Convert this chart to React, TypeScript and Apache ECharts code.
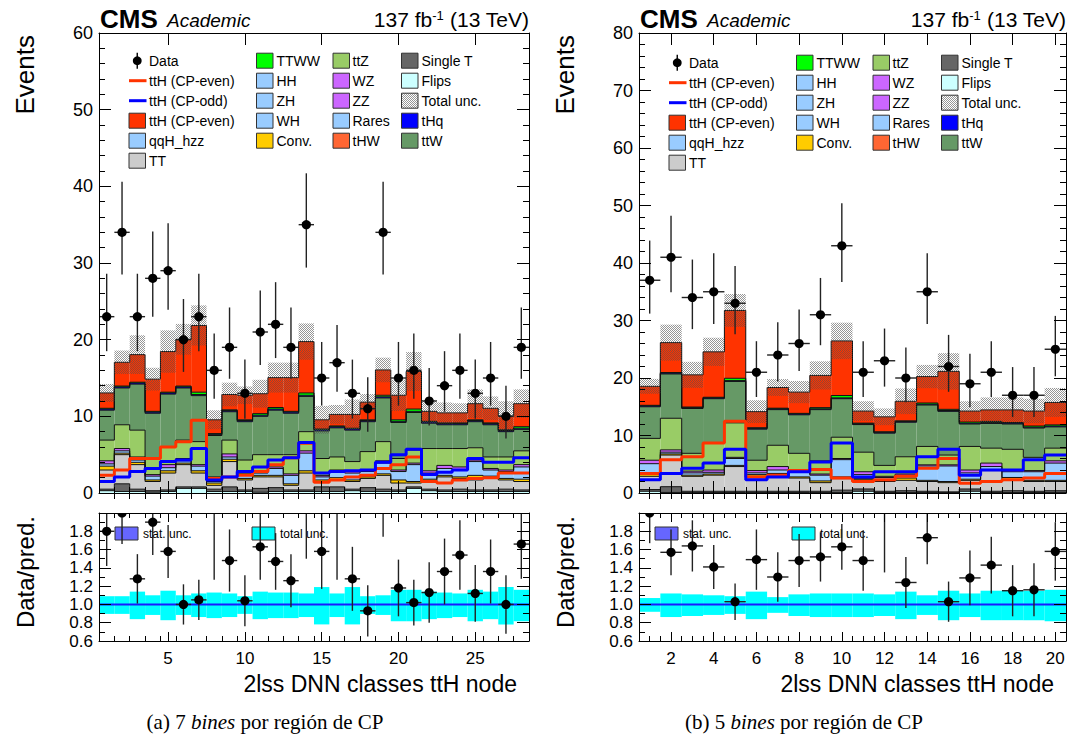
import React, { useEffect, useRef } from 'react';
import * as echarts from 'echarts';

// ---------------- Panel (a): 28 bins ----------------
const binsA = [1, 2, 3, 4, 5, 6, 7, 8, 9, 10, 11, 12, 13, 14, 15, 16, 17, 18, 19, 20, 21, 22, 23, 24, 25, 26, 27, 28];
const dataA = [23, 34, 23, 28, 29, 20, 23, 16, 19, 13, 21, 22, 19, 35, 15, 17, 13, 11, 34, 15, 16, 12, 14, 16, 13, 15, 10, 19];
const errLoA = [4.5, 5.5, 4.5, 5.0, 5.1, 4.2, 4.5, 3.7, 4.1, 3.3, 4.3, 4.4, 4.1, 5.6, 3.6, 3.8, 3.3, 3.0, 5.5, 3.6, 3.7, 3.2, 3.4, 3.7, 3.3, 3.6, 2.9, 4.1];
const errHiA = [5.6, 6.6, 5.6, 6.1, 6.2, 5.3, 5.6, 4.8, 5.2, 4.4, 5.4, 5.5, 5.2, 6.7, 4.7, 4.9, 4.4, 4.1, 6.6, 4.7, 4.8, 4.3, 4.5, 4.8, 4.4, 4.7, 4.0, 5.2];
const flipsA = [0.3, 0.2, 0.2, 0.1, 0.2, 0.6, 0.6, 0.2, 0.2, 0.2, 0.1, 0.2, 0.2, 0.2, 0.2, 0.2, 0.3, 0.2, 0.2, 0.2, 0.6, 0.3, 0.2, 0.2, 0.2, 0.2, 0.2, 0.2];
const singleTA = [0.2, 1.0, 0.3, 0.2, 0.2, 0.2, 0.2, 0.3, 0.6, 0.2, 0.5, 0.5, 0.2, 0.2, 0.6, 0.6, 0.2, 0.5, 0.3, 0.2, 0.2, 0.2, 0.2, 0.3, 0.2, 0.2, 0.3, 0.2];
const ttA = [2.5, 3.8, 3.2, 1.2, 2.2, 2.9, 1.8, 0.5, 3.3, 1.3, 1.5, 1.4, 0.6, 2.2, 0.7, 0.9, 1.0, 1.2, 1.8, 0.9, 0.5, 1.0, 1.7, 1.4, 1.3, 1.5, 1.2, 1.1];
const convA = [0.5, 0.2, 0.3, 0.2, 0.3, 0.2, 0.3, 0.3, 0.3, 0.2, 0.2, 0.2, 0.2, 0.3, 0.2, 0.3, 0.2, 0.2, 0.2, 0.4, 0.2, 0.3, 0.2, 0.2, 0.6, 0.3, 0.2, 0.3];
const raresA = [0.3, 0.3, 0.3, 0.5, 0.4, 0.3, 0.6, 0.2, 0.3, 0.4, 0.3, 0.9, 1.1, 2.3, 0.4, 0.8, 0.9, 0.7, 1.4, 1.1, 2.2, 0.8, 0.9, 0.9, 1.8, 0.8, 0.9, 1.6];
const wzzzA = [0.4, 0.3, 0.4, 0.2, 0.4, 0.3, 0.2, 0.3, 0.4, 0.2, 0.2, 0.2, 0.2, 0.3, 0.2, 0.2, 0.2, 0.2, 0.3, 0.2, 0.2, 0.3, 0.4, 0.4, 0.2, 0.2, 0.2, 0.3];
const ttzA = [2.7, 3.1, 3.5, 2.1, 2.3, 2.4, 3.0, 0.3, 1.8, 1.8, 2.2, 1.6, 2.5, 2.5, 2.2, 1.7, 1.3, 2.4, 2.5, 1.5, 1.7, 2.9, 2.2, 2.4, 1.6, 1.5, 1.7, 1.8];
const ttwA = [3.9, 4.8, 6.0, 5.9, 6.9, 6.8, 6.0, 5.4, 3.7, 5.0, 5.0, 5.8, 5.4, 4.6, 3.6, 3.8, 4.1, 3.9, 5.7, 4.7, 4.9, 3.3, 3.1, 3.1, 3.4, 4.2, 3.3, 2.8];
const thqA = [0.15, 0.15, 0.15, 0.15, 0.15, 0.15, 0.15, 0.15, 0.15, 0.15, 0.15, 0.15, 0.15, 0.15, 0.15, 0.15, 0.15, 0.15, 0.15, 0.15, 0.15, 0.15, 0.15, 0.15, 0.15, 0.15, 0.15, 0.15];
const ttwwA = [0.1, 0.1, 0.1, 0.1, 0.1, 0.1, 0.3, 0.1, 0.1, 0.1, 0.2, 0.2, 0.1, 0.3, 0.1, 0.1, 0.1, 0.1, 0.2, 0.2, 0.3, 0.1, 0.1, 0.1, 0.1, 0.1, 0.1, 0.2];
const tthA = [2.0, 3.1, 3.6, 4.2, 5.3, 6.1, 8.7, 1.8, 2.0, 3.2, 2.6, 3.9, 4.4, 6.7, 1.2, 1.5, 1.8, 2.3, 3.3, 3.2, 4.9, 1.3, 1.3, 1.3, 2.1, 1.9, 1.8, 3.0];
const cpEvenA = [2.3, 3.0, 4.5, 4.5, 6.0, 6.7, 9.5, 1.9, 2.1, 2.3, 2.8, 3.7, 4.6, 6.5, 1.4, 1.7, 2.1, 2.3, 3.2, 3.7, 4.7, 1.5, 1.3, 1.7, 1.9, 2.0, 2.6, 2.6];
const cpOddA = [1.5, 2.1, 2.8, 3.2, 4.1, 4.3, 5.8, 1.7, 2.1, 2.8, 3.4, 4.3, 4.6, 6.6, 2.6, 2.8, 2.9, 3.0, 4.0, 5.0, 5.7, 2.4, 2.7, 3.0, 4.5, 4.0, 4.0, 4.6];
const uncA = [0.09, 0.09, 0.14, 0.10, 0.15, 0.10, 0.12, 0.13, 0.12, 0.09, 0.14, 0.13, 0.13, 0.12, 0.19, 0.12, 0.19, 0.09, 0.10, 0.16, 0.16, 0.14, 0.13, 0.12, 0.16, 0.14, 0.19, 0.16];
const ratioA = [1.8, 2.0, 1.28, 1.9, 1.58, 1.0, 1.05, 2.2, 1.48, 1.04, 1.63, 1.47, 1.26, 2.1, 1.58, 2.2, 1.28, 0.93, 2.1, 1.18, 1.02, 1.13, 1.36, 1.54, 1.12, 1.36, 1.0, 1.66];
const ratioErrA = [0.38, 0.34, 0.27, 0.36, 0.29, 0.22, 0.22, 0.93, 0.34, 0.28, 0.36, 0.31, 0.29, 0.6, 0.41, 0.93, 0.35, 0.28, 0.36, 0.31, 0.25, 0.33, 0.36, 0.38, 0.31, 0.35, 0.32, 0.38];
const majorTicksA = [5, 10, 15, 20, 25];

// ---------------- Panel (b): 20 bins ----------------
const binsB = [1, 2, 3, 4, 5, 6, 7, 8, 9, 10, 11, 12, 13, 14, 15, 16, 17, 18, 19, 20];
const dataB = [37, 41, 34, 35, 33, 21, 24, 26, 31, 43, 21, 23, 20, 35, 22, 19, 21, 17, 17, 25];
const errLoB = [5.8, 6.1, 5.5, 5.6, 5.4, 4.3, 4.6, 4.8, 5.3, 6.3, 4.3, 4.5, 4.2, 5.6, 4.4, 4.1, 4.3, 3.8, 3.8, 4.7];
const errHiB = [6.9, 7.2, 6.6, 6.7, 6.5, 5.4, 5.7, 5.9, 6.4, 7.4, 5.4, 5.6, 5.3, 6.7, 5.5, 5.2, 5.4, 4.9, 4.9, 5.8];
const flipsB = [0.3, 0.1, 0.1, 0.1, 0.1, 0.1, 0.1, 0.1, 0.1, 0.1, 0.3, 0.1, 0.1, 0.1, 0.1, 0.3, 0.1, 0.1, 0.1, 0.1];
const singleTB = [0.3, 1.0, 0.2, 0.2, 0.2, 0.2, 0.2, 0.2, 0.2, 0.4, 0.4, 0.2, 0.3, 0.2, 0.1, 0.4, 0.2, 0.3, 0.2, 0.3];
const ttB = [2.3, 5.5, 2.6, 2.8, 4.3, 2.6, 2.8, 2.3, 1.5, 2.0, 1.6, 1.7, 1.8, 1.7, 1.6, 1.5, 3.6, 1.8, 1.7, 1.6];
const convB = [0.6, 0.2, 0.2, 0.2, 0.2, 0.3, 0.3, 0.2, 0.3, 0.3, 0.2, 0.2, 0.4, 0.2, 0.2, 0.2, 0.2, 0.5, 0.2, 0.2];
const raresB = [1.6, 0.3, 0.4, 0.3, 1.2, 0.3, 0.6, 1.0, 1.0, 3.0, 0.7, 0.5, 0.5, 2.5, 2.7, 1.1, 0.5, 1.0, 1.5, 3.0];
const wzzzB = [0.6, 0.4, 0.3, 0.4, 0.2, 0.4, 0.6, 0.2, 0.2, 0.2, 0.5, 0.2, 0.2, 0.2, 0.2, 0.5, 0.6, 0.3, 0.2, 0.4];
const ttzB = [3.8, 5.5, 3.1, 4.7, 6.0, 1.8, 3.7, 2.9, 2.3, 3.7, 3.4, 1.9, 3.0, 3.2, 1.7, 4.1, 2.6, 3.6, 2.3, 2.2];
const ttwB = [5.5, 7.7, 7.8, 7.7, 7.2, 5.4, 6.2, 6.7, 8.9, 6.7, 4.8, 5.6, 6.0, 7.2, 7.6, 3.9, 4.3, 4.4, 5.1, 3.7];
const thqB = [0.15, 0.15, 0.15, 0.15, 0.15, 0.15, 0.15, 0.15, 0.15, 0.15, 0.15, 0.15, 0.15, 0.15, 0.15, 0.15, 0.15, 0.15, 0.15, 0.15];
const ttwwB = [0.1, 0.1, 0.1, 0.1, 0.4, 0.1, 0.1, 0.1, 0.2, 0.4, 0.1, 0.1, 0.1, 0.2, 0.2, 0.2, 0.2, 0.1, 0.2, 0.2];
const tthB = [3.3, 5.2, 5.6, 7.9, 11.8, 2.8, 3.6, 3.7, 5.6, 9.5, 2.1, 2.6, 3.4, 4.6, 6.6, 1.9, 2.0, 2.2, 2.6, 3.9];
const cpEvenB = [3.4, 5.8, 6.3, 8.7, 12.5, 2.8, 3.1, 3.9, 4.1, 2.6, 2.0, 2.3, 2.9, 4.3, 6.0, 1.7, 2.0, 2.3, 2.6, 3.4];
const cpOddB = [2.3, 3.4, 4.3, 5.2, 7.6, 2.3, 2.8, 3.7, 5.4, 8.7, 2.8, 3.7, 3.7, 6.3, 7.6, 3.1, 4.0, 4.0, 5.8, 6.6];
const uncB = [0.07, 0.12, 0.11, 0.10, 0.09, 0.14, 0.08, 0.11, 0.12, 0.12, 0.12, 0.11, 0.14, 0.10, 0.15, 0.12, 0.15, 0.15, 0.15, 0.16];
const ratioB = [2.0, 1.57, 1.64, 1.41, 1.03, 1.49, 1.30, 1.48, 1.52, 1.63, 1.48, 2.1, 1.24, 1.73, 1.03, 1.29, 1.43, 1.15, 1.16, 1.58];
const ratioErrB = [0.33, 0.25, 0.28, 0.24, 0.2, 0.33, 0.27, 0.29, 0.27, 0.25, 0.33, 0.75, 0.28, 0.29, 0.22, 0.30, 0.31, 0.28, 0.29, 0.32];
const majorTicksB = [2, 4, 6, 8, 10, 12, 14, 16, 18, 20];

// stack order bottom -> top
const compColors = ['#ccffff', '#666666', '#cccccc', '#ffcc00', '#99ccff', '#cc66ff', '#99cc66', '#669966', '#0000ff', '#00ff00', '#ff3300'];

const legendCol1 = [['Data', 'data'], ['ttH (CP-even)', 'lineRed'], ['ttH (CP-odd)', 'lineBlue'], ['ttH (CP-even)', '#ff3300'], ['qqH_hzz', '#99ccff'], ['TT', '#cccccc']];
const legendCol2 = [['TTWW', '#00ff00'], ['HH', '#99ccff'], ['ZH', '#99ccff'], ['WH', '#99ccff'], ['Conv.', '#ffcc00']];
const legendCol3 = [['ttZ', '#99cc66'], ['WZ', '#cc66ff'], ['ZZ', '#cc66ff'], ['Rares', '#99ccff'], ['tHW', '#ff6633']];
const legendCol4 = [['Single T', '#666666'], ['Flips', '#ccffff'], ['Total unc.', 'hatch'], ['tHq', '#0000ff'], ['ttW', '#669966']];

const FONT = '"Liberation Sans", Arial, Helvetica, sans-serif';
const SERIF = '"Liberation Serif", "DejaVu Serif", serif';

const panels = [
  {
    bins: binsA, data: dataA, errLo: errLoA, errHi: errHiA,
    comps: [flipsA, singleTA, ttA, convA, raresA, wzzzA, ttzA, ttwA, thqA, ttwwA, tthA],
    cpEven: cpEvenA, cpOdd: cpOddA, unc: uncA, ratio: ratioA, ratioErr: ratioErrA,
    majors: majorTicksA, minorStep: 1, yMax: 60,
    grid: { left: 99, width: 430 }, caption: '(a) 7 {it|bines} por región de CP', captionX: 265, legendDy: 0,
  },
  {
    bins: binsB, data: dataB, errLo: errLoB, errHi: errHiB,
    comps: [flipsB, singleTB, ttB, convB, raresB, wzzzB, ttzB, ttwB, thqB, ttwwB, tthB],
    cpEven: cpEvenB, cpOdd: cpOddB, unc: uncB, ratio: ratioB, ratioErr: ratioErrB,
    majors: majorTicksB, minorStep: 0.5, yMax: 80,
    grid: { left: 639, width: 427 }, caption: '(b) 5 {it|bines} por región de CP', captionX: 804, legendDy: 2,
  },
];

function stackLevels(comps: number[][]) {
  const levels: { lo: number[]; hi: number[] }[] = [];
  let prev = comps[0].map(() => 0);
  comps.forEach((c) => {
    const top = c.map((v, i) => prev[i] + v);
    levels.push({ lo: prev, hi: top });
    prev = top;
  });
  return levels;
}

function stepData(bins: number[], vals: number[]) {
  const d = bins.map((b, i) => [b - 0.5, vals[i]]);
  d.push([bins[bins.length - 1] + 0.5, vals[vals.length - 1]]);
  return d;
}

function minorValues(n: number, step: number) {
  const out: number[] = [];
  for (let v = 0.5 + step; v < n + 0.5 - 1e-6; v += step) out.push(Math.round(v * 100) / 100);
  return out;
}

const lineStyleBlack = { color: '#000', width: 1 };

function xAxesFor(g: number, n: number, majors: number[], minors: number[], labels: boolean) {
  const base: any = { type: 'value', gridIndex: g, min: 0.5, max: n + 0.5, splitLine: { show: false }, z: 10 };
  const line = { show: true, onZero: false, lineStyle: lineStyleBlack };
  const tMaj = { show: true, inside: true, length: labels ? 9 : 12, customValues: majors, lineStyle: lineStyleBlack };
  const tMin = { show: true, inside: true, length: labels ? 5 : 6, customValues: minors, lineStyle: lineStyleBlack };
  return [
    {
      ...base, position: 'bottom', axisLine: line, axisTick: tMaj,
      axisLabel: labels
        ? { show: true, customValues: majors, fontSize: 17, fontFamily: FONT, color: '#000', margin: 9 }
        : { show: false },
    },
    { ...base, position: 'bottom', axisLine: { show: false }, axisTick: tMin, axisLabel: { show: false } },
    { ...base, position: 'top', axisLine: line, axisTick: tMaj, axisLabel: { show: false } },
    { ...base, position: 'top', axisLine: { show: false }, axisTick: tMin, axisLabel: { show: false } },
  ];
}

function yAxesFor(g: number, min: number, max: number, interval: number, split: number, ratio: boolean) {
  const base: any = {
    type: 'value', gridIndex: g, min, max, interval, splitLine: { show: false }, z: 10,
    axisLine: { show: true, onZero: false, lineStyle: lineStyleBlack },
    axisTick: { show: true, inside: true, length: ratio ? 12 : 12, lineStyle: lineStyleBlack },
    minorTick: { show: true, splitNumber: split, length: ratio ? 6 : 6, lineStyle: lineStyleBlack },
  };
  return [
    {
      ...base, position: 'left',
      axisLabel: {
        show: true, fontSize: ratio ? 17 : 18, fontFamily: FONT, color: '#000', margin: ratio ? 6 : 6,
        formatter: (v: number) => (ratio ? (v > 1.95 ? '' : v.toFixed(1)) : String(v)),
      },
    },
    { ...base, position: 'right', axisLabel: { show: false } },
  ];
}

function buildSeries(P: any, pi: number, hatch: any) {
  const gM = 2 * pi, gR = 2 * pi + 1;
  const xM = 4 * gM, yM = 2 * gM, xR = 4 * gR, yR = 2 * gR;
  const levels = stackLevels(P.comps);
  const total = levels[levels.length - 1].hi;
  const series: any[] = [];

  levels.forEach((lv, k) => {
    series.push({
      type: 'custom', xAxisIndex: xM, yAxisIndex: yM, z: 2, clip: true, silent: true,
      encode: { x: 0, y: [1, 2] },
      data: P.bins.map((b: number, i: number) => [b, lv.lo[i], lv.hi[i]]),
      renderItem: (params: any, api: any) => {
        const x = api.value(0), lo = api.value(1), hi = api.value(2);
        if (hi - lo <= 0) return null;
        const p1 = api.coord([x - 0.5, hi]);
        const p2 = api.coord([x + 0.5, lo]);
        return { type: 'rect', shape: { x: p1[0], y: p1[1], width: p2[0] - p1[0], height: p2[1] - p1[1] }, style: { fill: compColors[k] } };
      },
    });
  });

  // histogram outlines (ROOT HIST style)
  series.push({
    type: 'custom', xAxisIndex: xM, yAxisIndex: yM, z: 3, clip: true, silent: true,
    encode: { x: 0, y: 1 },
    data: P.bins.map((b: number, i: number) => [b, total[i]]),
    renderItem: (params: any, api: any) => {
      const i = params.dataIndex;
      const x = api.value(0);
      const children: any[] = [];
      levels.forEach((lv) => {
        const a = api.coord([x - 0.5, lv.hi[i]]);
        const b = api.coord([x + 0.5, lv.hi[i]]);
        children.push({ type: 'line', shape: { x1: a[0], y1: a[1], x2: b[0], y2: b[1] }, style: { stroke: '#111', lineWidth: 1 } });
        if (i > 0) {
          const c = api.coord([x - 0.5, lv.hi[i - 1]]);
          children.push({ type: 'line', shape: { x1: a[0], y1: c[1], x2: a[0], y2: a[1] }, style: { stroke: '#111', lineWidth: 1 } });
        }
      });
      return { type: 'group', children };
    },
  });

  // total uncertainty hatch
  series.push({
    type: 'custom', xAxisIndex: xM, yAxisIndex: yM, z: 4, clip: true, silent: true,
    encode: { x: 0, y: [1, 2] },
    data: P.bins.map((b: number, i: number) => [b, total[i] * (1 - P.unc[i]), total[i] * (1 + P.unc[i])]),
    renderItem: (params: any, api: any) => {
      const x = api.value(0);
      const p1 = api.coord([x - 0.5, api.value(2)]);
      const p2 = api.coord([x + 0.5, api.value(1)]);
      return { type: 'rect', shape: { x: p1[0], y: p1[1], width: p2[0] - p1[0], height: p2[1] - p1[1] }, style: { fill: hatch } };
    },
  });

  // CP-even / CP-odd lines
  series.push({
    type: 'line', xAxisIndex: xM, yAxisIndex: yM, z: 5, step: 'end', symbol: 'none', silent: true,
    data: stepData(P.bins, P.cpEven), lineStyle: { color: '#ff3300', width: 3 },
  });
  series.push({
    type: 'line', xAxisIndex: xM, yAxisIndex: yM, z: 5, step: 'end', symbol: 'none', silent: true,
    data: stepData(P.bins, P.cpOdd), lineStyle: { color: '#0000ff', width: 3 },
  });

  const pointRender = (params: any, api: any) => {
    const x = api.value(0), v = api.value(1), lo = api.value(2), hi = api.value(3);
    const c = api.coord([x, v]);
    const l = api.coord([x - 0.5, v]);
    const r = api.coord([x + 0.5, v]);
    const t = api.coord([x, v + hi]);
    const b = api.coord([x, v - lo]);
    return {
      type: 'group',
      children: [
        { type: 'line', shape: { x1: l[0], y1: c[1], x2: r[0], y2: c[1] }, style: { stroke: '#222', lineWidth: 1.4 } },
        { type: 'line', shape: { x1: c[0], y1: t[1], x2: c[0], y2: b[1] }, style: { stroke: '#222', lineWidth: 1.4 } },
        { type: 'circle', shape: { cx: c[0], cy: c[1], r: 4.6 }, style: { fill: '#000' } },
      ],
    };
  };

  // data points
  series.push({
    type: 'custom', xAxisIndex: xM, yAxisIndex: yM, z: 6, clip: true, silent: true,
    encode: { x: 0, y: 1 },
    data: P.bins.map((b: number, i: number) => [b, P.data[i], P.errLo[i], P.errHi[i]]),
    renderItem: pointRender,
  });

  // ratio band
  series.push({
    type: 'custom', xAxisIndex: xR, yAxisIndex: yR, z: 2, clip: true, silent: true,
    encode: { x: 0, y: [1, 2] },
    data: P.bins.map((b: number, i: number) => [b, 1 - P.unc[i] * 1.15, 1 + P.unc[i]]),
    renderItem: (params: any, api: any) => {
      const x = api.value(0);
      const p1 = api.coord([x - 0.5, api.value(2)]);
      const p2 = api.coord([x + 0.5, api.value(1)]);
      return { type: 'rect', shape: { x: p1[0], y: p1[1], width: p2[0] - p1[0], height: p2[1] - p1[1] }, style: { fill: '#00ffff' } };
    },
  });
  series.push({
    type: 'line', xAxisIndex: xR, yAxisIndex: yR, z: 3, symbol: 'none', silent: true,
    data: [[0.5, 1], [P.bins.length + 0.5, 1]], lineStyle: { color: '#1a1aff', width: 2 },
  });
  series.push({
    type: 'custom', xAxisIndex: xR, yAxisIndex: yR, z: 6, clip: true, silent: true,
    encode: { x: 0, y: 1 },
    data: P.bins.map((b: number, i: number) => [b, P.ratio[i], P.ratioErr[i], P.ratioErr[i]]),
    renderItem: pointRender,
  });
  return series;
}

function legendGraphics(P: any, hatch: any) {
  const L = P.grid.left;
  const dy = P.legendDy;
  const els: any[] = [];
  const boxW = 16.5, boxH = 15;
  const cols = [
    { items: legendCol1, box: L + 30, text: L + 50 },
    { items: legendCol2, box: L + 157.5, text: L + 177.5 },
    { items: legendCol3, box: L + 234, text: L + 253.5 },
    { items: legendCol4, box: L + 302.5, text: L + 322.5 },
  ];
  cols.forEach((col) => {
    col.items.forEach((it, r) => {
      const y = 60.7 + dy + r * 20;
      const kind = it[1];
      if (kind === 'data') {
        const cx = col.box + boxW / 2;
        els.push({ type: 'line', shape: { x1: cx, y1: y - 8, x2: cx, y2: y + 8 }, style: { stroke: '#000', lineWidth: 1.4 } });
        els.push({ type: 'circle', shape: { cx, cy: y, r: 4.4 }, style: { fill: '#000' } });
      } else if (kind === 'lineRed' || kind === 'lineBlue') {
        els.push({ type: 'line', shape: { x1: col.box, y1: y, x2: col.box + boxW + 1, y2: y }, style: { stroke: kind === 'lineRed' ? '#ff3300' : '#0000ff', lineWidth: 3 } });
      } else {
        els.push({
          type: 'rect', shape: { x: col.box, y: y - boxH / 2, width: boxW, height: boxH },
          style: { fill: kind === 'hatch' ? hatch : kind, stroke: '#333', lineWidth: 1 },
        });
      }
      els.push({ type: 'text', x: col.text, y, style: { text: it[0], fontSize: 14, fontFamily: FONT, fill: '#000', align: 'left', verticalAlign: 'middle' } });
    });
  });
  return els;
}

function panelTexts(P: any) {
  const L = P.grid.left;
  const R = L + P.grid.width;
  const els: any[] = [];
  els.push({ type: 'text', x: L + 1, y: 19, style: { text: 'CMS', fontSize: 26, fontWeight: 'bold', fontFamily: FONT, fill: '#000', align: 'left', verticalAlign: 'middle' } });
  els.push({ type: 'text', x: L + 68, y: 20, style: { text: 'Academic', fontSize: 19, fontStyle: 'italic', fontFamily: FONT, fill: '#000', align: 'left', verticalAlign: 'middle' } });
  els.push({
    type: 'text', x: R, y: 19,
    style: {
      text: '137 fb{sup|-1} (13 TeV)', fontSize: 21, fontFamily: FONT, fill: '#000', align: 'right', verticalAlign: 'middle',
      rich: { sup: { fontSize: 13, fontFamily: FONT, verticalAlign: 'top', padding: [0, 0, 7, 0] } },
    },
  });
  const tx = L - 74;
  els.push({ type: 'text', x: tx, y: 35, rotation: Math.PI / 2, style: { text: 'Events', fontSize: 26, fontFamily: FONT, fill: '#000', align: 'right', verticalAlign: 'middle' } });
  els.push({ type: 'text', x: tx, y: 516, rotation: Math.PI / 2, style: { text: 'Data/pred.', fontSize: 24, fontFamily: FONT, fill: '#000', align: 'right', verticalAlign: 'middle' } });
  els.push({ type: 'text', x: R - 12, y: 684, style: { text: '2lss DNN classes ttH node', fontSize: 23, fontFamily: FONT, fill: '#000', align: 'right', verticalAlign: 'middle' } });
  // ratio legend
  els.push({ type: 'rect', shape: { x: L + 16, y: 527, width: 23, height: 13 }, style: { fill: '#6666ff', stroke: '#333', lineWidth: 1 } });
  els.push({ type: 'text', x: L + 44, y: 533.5, style: { text: 'stat. unc.', fontSize: 12, fontFamily: FONT, fill: '#000', align: 'left', verticalAlign: 'middle' } });
  els.push({ type: 'rect', shape: { x: L + 153, y: 527, width: 23, height: 13 }, style: { fill: '#00ffff', stroke: '#333', lineWidth: 1 } });
  els.push({ type: 'text', x: L + 181, y: 533.5, style: { text: 'total unc.', fontSize: 12, fontFamily: FONT, fill: '#000', align: 'left', verticalAlign: 'middle' } });
  // caption
  els.push({
    type: 'text', x: P.captionX, y: 722,
    style: {
      text: P.caption, fontSize: 21, fontFamily: SERIF, fill: '#000', align: 'center', verticalAlign: 'middle',
      rich: { it: { fontSize: 21, fontFamily: SERIF, fontStyle: 'italic' } },
    },
  });
  return els;
}

function makeHatch() {
  const c = document.createElement('canvas');
  c.width = 4;
  c.height = 4;
  const ctx = c.getContext('2d') as CanvasRenderingContext2D;
  ctx.clearRect(0, 0, 4, 4);
  ctx.fillStyle = 'rgba(80,80,80,0.6)';
  for (let y = 0; y < 4; y++) for (let x = 0; x < 4; x++) if ((x + y) % 2 === 0) ctx.fillRect(x, y, 1, 1);
  return { image: c.toDataURL(), repeat: 'repeat', imageWidth: 4, imageHeight: 4 };
}

export default function App() {
  const ref = useRef<HTMLDivElement>(null);
  useEffect(() => {
    if (!ref.current) return;
    const chart = echarts.init(ref.current, undefined, { renderer: 'svg' });
    const hatch = makeHatch();
    const grids: any[] = [];
    const xAxis: any[] = [];
    const yAxis: any[] = [];
    let series: any[] = [];
    let graphics: any[] = [];
    panels.forEach((P, pi) => {
      grids.push({ left: P.grid.left, width: P.grid.width, top: 33, height: 460 });
      grids.push({ left: P.grid.left, width: P.grid.width, top: 513, height: 128 });
      const n = P.bins.length;
      const minors = minorValues(n, P.minorStep);
      xAxis.push(...xAxesFor(2 * pi, n, P.majors, minors, false));
      xAxis.push(...xAxesFor(2 * pi + 1, n, P.majors, minors, true));
      yAxis.push(...yAxesFor(2 * pi, 0, P.yMax, 10, 5, false));
      yAxis.push(...yAxesFor(2 * pi + 1, 0.6, 2.0, 0.2, 2, true));
      series = series.concat(buildSeries(P, pi, hatch));
      graphics = graphics.concat(legendGraphics(P, hatch), panelTexts(P));
    });
    chart.setOption({
      animation: false,
      backgroundColor: '#fff',
      grid: grids,
      xAxis,
      yAxis,
      series,
      graphic: { elements: graphics },
    });
    return () => chart.dispose();
  }, []);
  return <div ref={ref} style={{ position: 'absolute', left: 0, top: 0, width: 1072, height: 744 }} />;
}
